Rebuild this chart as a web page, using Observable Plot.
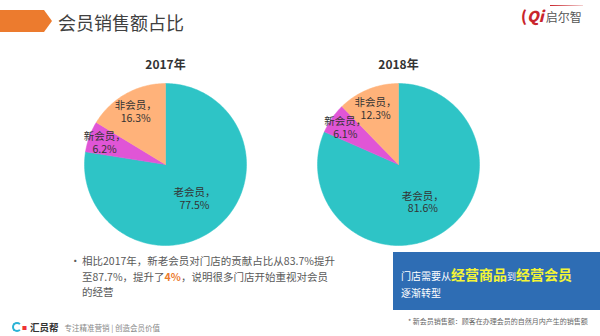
<!DOCTYPE html>
<html><head><meta charset="utf-8">
<script src="https://cdn.jsdelivr.net/npm/d3@7"></script>
<script src="https://cdn.jsdelivr.net/npm/@observablehq/plot@0.6"></script>
<style>
html,body{margin:0;padding:0;background:#fff;}
#page{position:relative;width:600px;height:336px;overflow:hidden;font-family:"Noto Sans CJK SC","Noto Sans",sans-serif;}
.abs{position:absolute;}
#bar{left:0;top:10px;width:52px;height:22px;background:#EC7B2E;clip-path:polygon(0 0,44px 0,52px 50%,44px 100%,0 100%);}
#title{left:58px;top:9px;font-size:18px;color:#404040;line-height:26px;}
#logo{left:521px;top:7px;font-size:12px;line-height:18px;white-space:nowrap;}
#logoline{left:550px;top:5px;width:33px;height:1px;background:linear-gradient(90deg,#c9252c,#f3d0d0);}
#bullet{left:70px;top:253px;font-size:10.5px;line-height:15.5px;color:#595959;white-space:nowrap;}
#bullet .dot{position:absolute;left:0;top:0;}
#bullet .ln{margin-left:12px;}
#box{left:393px;top:252px;width:207px;height:58px;background:#2E6DB4;color:#fff;}
#note{left:408px;top:316px;font-size:7px;line-height:10px;color:#666;white-space:nowrap;}
#footer{left:12px;top:317px;white-space:nowrap;line-height:14px;}
</style></head>
<body>
<div id="page">
  <div id="bar" class="abs"></div>
  <div id="title" class="abs">会员销售额占比</div>
  <div id="logoline" class="abs"></div>
  <div id="logo" class="abs"><span style="color:#c9252c;font-weight:900;font-size:15px;">(</span><span style="color:#c9252c;font-weight:900;font-style:italic;font-size:15px;">Qi</span><span style="color:#555;margin-left:2px;">启尔智</span></div>
  <div id="pie2017" class="abs" style="left:80px;top:53px;"></div>
  <div id="pie2018" class="abs" style="left:313px;top:53px;"></div>
  <div id="bullet" class="abs">
    <div class="dot">•</div>
    <div class="ln">相比2017年，新老会员对门店的贡献占比从83.7%提升</div>
    <div class="ln">至87.7%，提升了<span style="color:#EC7B2E;font-weight:bold;">4%</span>，说明很多门店开始重视对会员</div>
    <div class="ln">的经营</div>
  </div>
  <div id="box" class="abs"><div style="position:absolute;left:8px;top:14px;font-size:10px;line-height:16px;white-space:nowrap;">门店需要从<span style="color:#F5F535;font-weight:bold;font-size:14px;">经营商品</span><span style="font-size:9px;">到</span><span style="color:#F5F535;font-weight:bold;font-size:14px;">经营会员</span><br>逐渐转型</div></div>
  <div id="note" class="abs">* 新会员销售额：顾客在办理会员的自然月内产生的销售额</div>
  <div id="footer" class="abs"><span style="display:inline-block;width:10px;height:10px;border-radius:50%;border:2px solid #2BB3D6;border-right-color:transparent;box-sizing:border-box;vertical-align:-1px;"></span><span style="color:#e33;font-size:5px;vertical-align:2px;">■</span><span style="font-size:9.5px;font-weight:bold;color:#333;margin-left:3px;">汇员帮</span><span style="font-size:7.5px;color:#888;margin-left:6px;">专注精准营销 | 创造会员价值</span></div>
</div>
<script>
const categories = ["老会员", "新会员", "非会员"];
const colors = ["#2EC4C6", "#E055D6", "#FFB27A"];
const years = ["2017年", "2018年"];
const shares2017 = [77.5, 6.2, 16.3];
const shares2018 = [81.6, 6.1, 12.3];

const labelRadius = {"老会员": 0.55, "新会员": 0.8, "非会员": 0.75};

function makePie(year, shares) {
  const rows = categories.map((c, i) => ({cat: c, value: shares[i]}));
  const arcs = d3.pie().sort(null).value(d => d.value).startAngle(0).endAngle(2 * Math.PI)(rows);
  const pts = [];
  const labels = [];
  for (const a of arcs) {
    const c = a.data.cat;
    pts.push({cat: c, x: 0, y: 0});
    const n = Math.max(2, Math.ceil((a.endAngle - a.startAngle) / 0.02));
    for (let k = 0; k <= n; k++) {
      const t = a.startAngle + (a.endAngle - a.startAngle) * k / n;
      pts.push({cat: c, x: Math.sin(t), y: Math.cos(t)});
    }
    pts.push({cat: c, x: 0, y: 0});
    const m = (a.startAngle + a.endAngle) / 2;
    const r = labelRadius[c];
    labels.push({text: c + "，\n" + a.data.value.toFixed(1) + "%", x: r * Math.sin(m), y: r * Math.cos(m)});
  }
  return Plot.plot({
    width: 170, height: 196,
    marginTop: 30, marginBottom: 4, marginLeft: 4, marginRight: 4,
    x: {domain: [-1, 1], axis: null},
    y: {domain: [-1, 1], axis: null},
    color: {domain: categories, range: colors},
    style: {background: "transparent", overflow: "visible"},
    marks: [
      Plot.line(pts, {x: "x", y: "y", z: "cat", fill: "cat", stroke: "cat", strokeWidth: 0.5, curve: "linear"}),
      Plot.text(labels, {x: "x", y: "y", text: "text", fontSize: 10.5, fill: "#333", lineHeight: 1.2, fontFamily: "Noto Sans CJK SC"}),
      Plot.text([year], {x: () => 0, y: () => 1.222, text: d => d, fontSize: 12, fontWeight: "bold", fill: "#333", fontFamily: "Noto Sans CJK SC"})
    ]
  });
}
document.getElementById("pie2017").appendChild(makePie(years[0], shares2017));
document.getElementById("pie2018").appendChild(makePie(years[1], shares2018));
</script>
</body></html>
